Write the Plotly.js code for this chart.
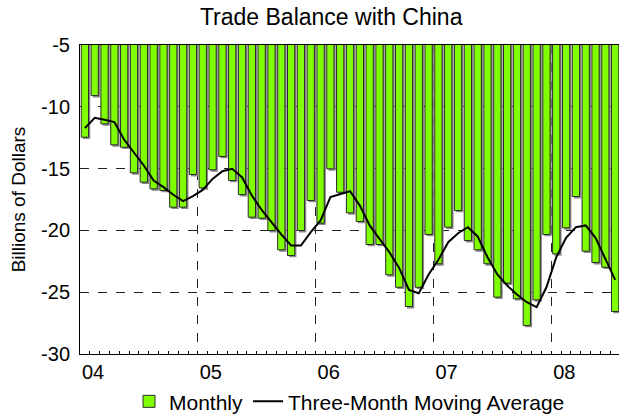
<!DOCTYPE html>
<html>
<head>
<meta charset="utf-8">
<script src="https://cdn.plot.ly/plotly-3.0.1.min.js"></script>
<style>
  html, body { margin: 0; padding: 0; background: #fff; }
  #plot { width: 619px; height: 414px; }
</style>
</head>
<body>
<div id="plot"></div>
<script>
// monthly trade balance with China, Jan 2004 - Jul 2008 (billions of dollars)
var monthly = [
  -12.46, -9.09, -11.38, -13.08, -13.27, -15.34, -16.10, -16.64, -16.77, -18.12, -18.12, -15.48,
  -16.56, -15.10, -14.02, -15.96, -17.10, -18.93, -19.01, -20.01, -21.57, -22.03, -20.01, -17.58,
  -19.41, -15.02, -16.91, -18.58, -19.28, -21.14, -21.14, -23.59, -24.60, -26.16, -24.60, -20.33,
  -22.70, -19.74, -18.39, -20.82, -21.57, -22.70, -25.40, -24.27, -25.53, -27.69, -25.62, -20.33,
  -21.90, -19.79, -17.26, -21.68, -22.60, -22.98, -26.56
];

// three-month moving average
var movingAvg = [
  -11.73, -10.89, -11.05, -11.24, -12.67, -13.67, -14.75, -15.96, -16.50, -17.12, -17.63, -17.23,
  -16.72, -15.83, -15.21, -15.02, -15.70, -17.18, -18.34, -19.33, -20.33, -21.22, -21.22, -20.14,
  -19.20, -17.31, -17.10, -16.83, -17.99, -19.60, -20.68, -21.76, -23.03, -24.81, -25.08, -23.57,
  -22.38, -20.95, -20.23, -19.74, -20.49, -22.17, -23.57, -24.46, -25.19, -25.81, -26.21, -24.60,
  -22.17, -20.60, -19.74, -19.60, -20.60, -22.30, -24.00
];

var yearLabels = ['04', '05', '06', '07', '08'];
var yearStarts = [0, 12, 24, 36, 48];   // month index where each year begins
var yTicks = [-30, -25, -20, -15, -10, -5];
var yTickText = ['-30', '-25', '-20', '-15', '-10', '-5'];

var monthIdx = monthly.map(function (v, i) { return i; });
var font = 'Liberation Sans, Arial, sans-serif';

var shadow = {
  type: 'bar',
  x: monthIdx,
  y: monthly,
  base: -0.15,
  width: 0.74,
  offset: -0.2,
  marker: { color: '#8a8a8a', line: { width: 0 } },
  showlegend: false,
  hoverinfo: 'skip'
};

var bars = {
  type: 'bar',
  name: 'Monthly',
  x: monthIdx,
  y: monthly,
  width: 0.74,
  offset: -0.37,
  marker: { color: '#80ff00', line: { color: '#2a2a2a', width: 1 } }
};

var avgLine = {
  type: 'scatter',
  mode: 'lines',
  name: 'Three-Month Moving Average',
  x: monthIdx,
  y: movingAvg,
  line: { color: '#000', width: 2 }
};

var layout = {
  width: 619,
  height: 414,
  margin: { l: 80, r: 0, t: 45, b: 60, autoexpand: false },
  paper_bgcolor: '#fff',
  plot_bgcolor: '#fff',
  font: { family: font, size: 20, color: '#000' },
  barmode: 'overlay',
  title: {
    text: 'Trade Balance with China',
    font: { family: font, size: 23, color: '#000' },
    x: 0.535, xanchor: 'center', y: 0.96, yanchor: 'middle'
  },
  xaxis: {
    range: [-0.5, 54.39],
    tickmode: 'array',
    tickvals: yearStarts.map(function (m) { return m - 0.5; }),
    ticktext: yearLabels,
    ticklabelshift: 13,
    ticks: 'inside',
    ticklen: 0,
    showline: true,
    linecolor: '#000',
    linewidth: 1,
    mirror: true,
    showgrid: true,
    gridcolor: '#222',
    griddash: 'dash',
    gridwidth: 1,
    zeroline: false,
    minor: {
      tickmode: 'linear', tick0: -0.5, dtick: 1,
      ticks: 'inside', ticklen: 3, tickcolor: '#000', showgrid: false
    },
    tickfont: { family: font, size: 20, color: '#000' },
    fixedrange: true
  },
  yaxis: {
    range: [-30, -5],
    tickmode: 'array',
    tickvals: yTicks,
    ticktext: yTickText,
    showline: true,
    linecolor: '#000',
    linewidth: 1,
    showgrid: true,
    gridcolor: '#222',
    griddash: 'dash',
    gridwidth: 1,
    zeroline: false,
    ticks: '',
    ticklabelstandoff: 5,
    tickfont: { family: font, size: 20, color: '#000' },
    title: { text: 'Billions of Dollars', font: { family: font, size: 19, color: '#000' }, standoff: 10 },
    fixedrange: true
  },
  showlegend: true,
  legend: {
    orientation: 'h',
    x: 0.5, xanchor: 'center',
    y: -0.088, yanchor: 'top',
    font: { family: font, size: 21, color: '#000' },
    itemwidth: 30,
    tracegroupgap: 0
  }
};

Plotly.newPlot('plot', [shadow, bars, avgLine], layout, { staticPlot: true });
</script>
</body>
</html>
